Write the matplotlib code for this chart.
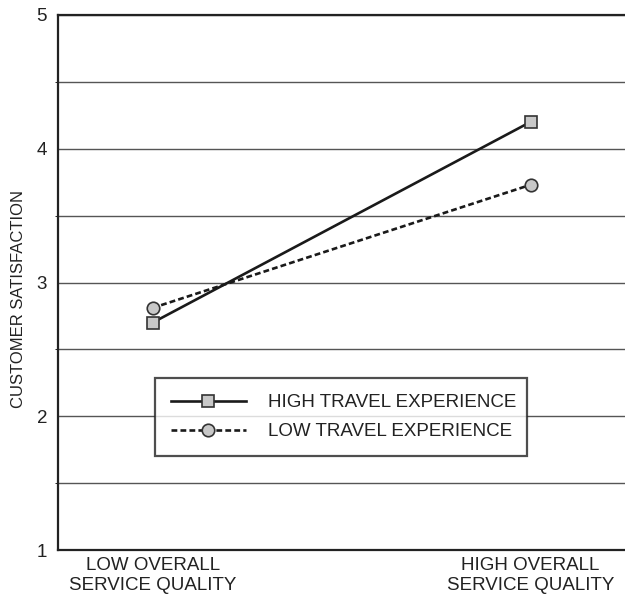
import matplotlib
matplotlib.use("Agg")
from matplotlib import pyplot as plt

plt.rcParams['font.family'] = ['Liberation Sans', 'DejaVu Sans']

# service quality levels on x axis
quality = ["LOW OVERALL\nSERVICE QUALITY", "HIGH OVERALL\nSERVICE QUALITY"]
high_travel = [2.70, 4.20]
low_travel = [2.81, 3.73]
yticks = [1, 2, 3, 4, 5]

fig = plt.figure(figsize=(6.25, 5.96), dpi=100)
ax = fig.add_axes([0.093, 0.077, 0.907, 0.898])

xs = range(len(quality))
ax.plot(xs, high_travel, color='#1a1a1a', lw=1.9, marker='s', ms=9,
        mfc='#c8c8c8', mec='#333333', mew=1.2, label='HIGH TRAVEL EXPERIENCE', zorder=3)
ax.plot(xs, low_travel, color='#1a1a1a', lw=1.9, ls=(0, (2.2, 1.2)), marker='o', ms=9,
        mfc='#c8c8c8', mec='#333333', mew=1.2, label='LOW TRAVEL EXPERIENCE', zorder=3)

ax.set_xlim(-0.25, 1.25)
ax.set_ylim(1, 5)
ax.set_yticks(yticks)
ax.set_yticks([1.5, 2.5, 3.5, 4.5], minor=True)
ax.set_xticks(list(xs))
ax.set_xticklabels(quality, fontsize=13, linespacing=1.25)
ax.tick_params(axis='both', length=0, labelsize=13.5, colors='#222222')
ax.tick_params(axis='x', pad=5)
ax.tick_params(axis='y', pad=8, which='both')
ax.grid(axis='y', which='both', color='#555555', lw=1.0)
ax.set_axisbelow(True)

for s in ['left', 'top', 'bottom']:
    ax.spines[s].set_color('#222222')
    ax.spines[s].set_linewidth(1.6)
ax.spines['right'].set_visible(False)

ax.set_ylabel('CUSTOMER SATISFACTION', fontsize=12, color='#222222')
ax.yaxis.set_label_coords(-0.057, 0.47)

leg = ax.legend(loc='upper left', bbox_to_anchor=(0.171, 0.178, 0.656, 0.143), mode='expand',
                borderaxespad=0, fontsize=13.5, frameon=True, fancybox=False,
                edgecolor='#222222', handlelength=4.0, borderpad=0.85,
                labelspacing=0.62, handletextpad=1.2)
leg.get_frame().set_linewidth(1.6)
for t in leg.get_texts():
    t.set_color('#222222')

fig.savefig('out.png', dpi=100)
